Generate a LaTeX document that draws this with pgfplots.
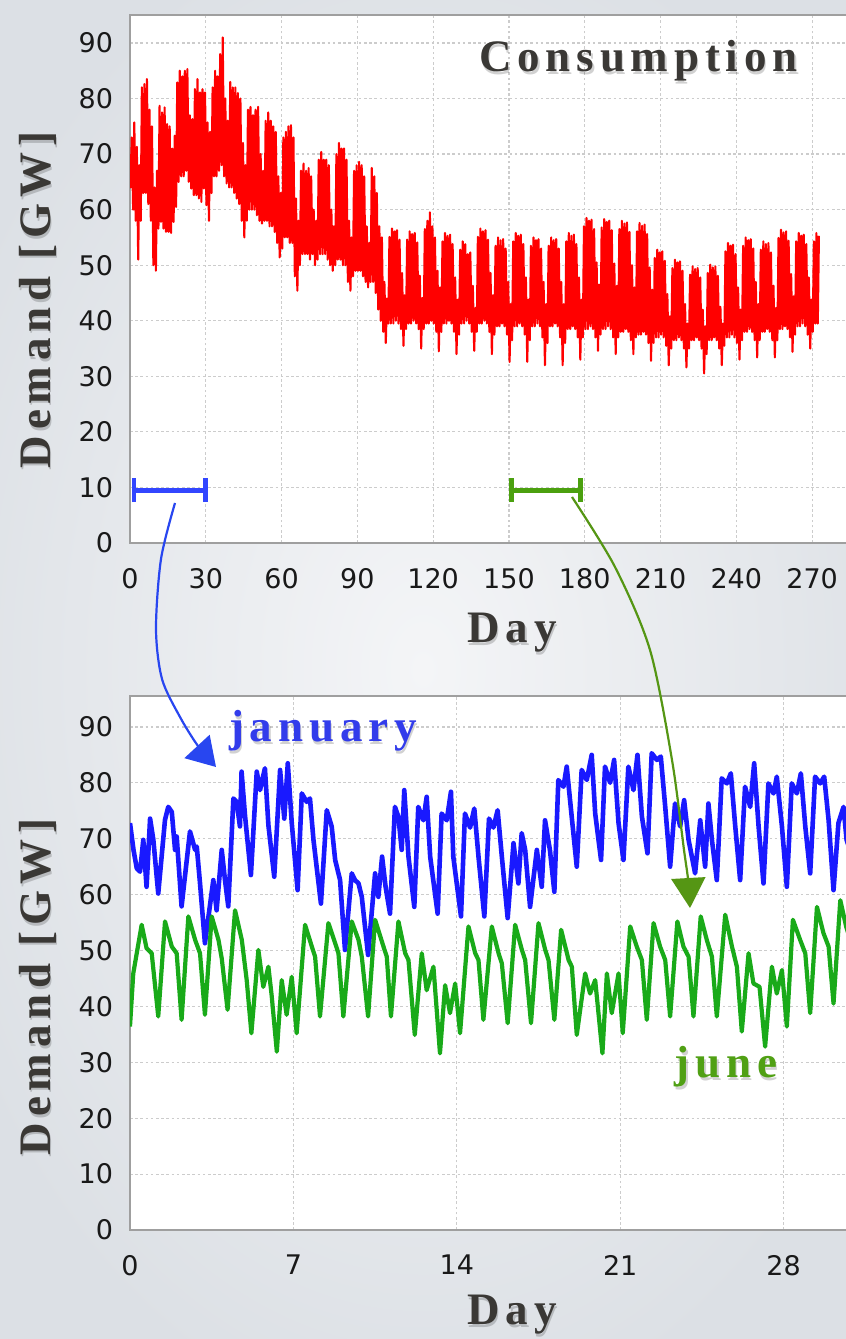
\documentclass[border=0pt]{standalone}
\usepackage{pgfplots}
\pgfplotsset{compat=1.18}
\usetikzlibrary{arrows.meta}
\usepackage{fontspec}
\setmainfont{Liberation Serif}
\newfontfamily\lblfont[LetterSpace=13]{Liberation Serif}
\newfontfamily\tickfont{DejaVu Sans}
\definecolor{redl}{RGB}{255,0,0}
\definecolor{bluel}{RGB}{25,25,255}
\definecolor{greenl}{RGB}{25,170,25}
\definecolor{barblue}{RGB}{50,70,255}
\definecolor{bargreen}{RGB}{75,160,15}
\definecolor{arrblue}{RGB}{40,70,240}
\definecolor{arrgreen}{RGB}{85,150,20}
\definecolor{txtblue}{RGB}{50,60,235}
\definecolor{txtgreen}{RGB}{80,160,20}
\definecolor{lbl}{RGB}{58,56,53}
\definecolor{tickc}{RGB}{25,25,25}
\definecolor{bgin}{RGB}{244,245,247}
\definecolor{bgout}{RGB}{220,224,229}
\pgfplotsset{
  common/.style={
    scale only axis, anchor=south west,
    ymin=0, ytick={0,10,...,90},
    grid=major,
    major grid style={gray!40, dash pattern=on 1.3pt off 1.3pt, line width=0.6pt},
    axis line style={gray!75, line width=1.2pt},
    tick style={draw=none},
    /pgf/number format/assume math mode=true,
    ticklabel style={font=\tickfont\fontsize{13.5}{15}\selectfont, text=tickc},
    xticklabel style={yshift=-9pt},
    yticklabel style={xshift=-5pt},
    axis background/.style={fill=white},
  }
}
\newcommand{\lbltxt}{\lblfont\bfseries\fontsize{22.5}{24}\selectfont}
\begin{document}
\begin{tikzpicture}[x=0.5pt,y=0.5pt]
\useasboundingbox (0,0) rectangle (846,1339);
\clip (0,0) rectangle (846,1339);
\shade[inner color=bgin, outer color=bgout] (-100,-100) rectangle (946,1439);
\coordinate (topO) at (130,796);
\coordinate (botO) at (130,109);

% ---------------- top axis ----------------
\begin{axis}[common, at={(topO)}, width=360pt, height=263.9pt,
  xmin=0, xmax=285, ymax=95, xtick={0,30,...,270}]
\addplot[redl, line width=1.05pt, line join=round] coordinates {
(0,70)
(0.25,64)(0.7,73)(1.25,60)(1.7,75.7)(2.25,58)(2.7,71.3)(3.25,51)(3.7,68)(4.25,58)(4.7,82)
(5.25,63)(5.7,82.6)(6.25,63)(6.7,83.5)(7.25,61)(7.7,78)(8.25,58)(8.7,75)(9.25,50)(9.7,64)
(10.25,49)(10.7,67)(11.25,56.6)(11.7,78.7)(12.25,57.8)(12.7,77.5)(13.25,56.6)(13.7,78.4)(14.25,56)(14.7,75.4)
(15.25,56)(15.7,75)(16.25,55.8)(16.7,71)(17.25,57.8)(17.7,73.3)(18.25,60.5)(18.7,82.9)(19.25,65)(19.7,85)
(20.25,66)(20.7,84)(21.25,66)(21.7,85)(22.25,67)(22.7,85.3)(23.25,65)(23.7,77)(24.25,63.8)(24.7,76.3)
(25.25,62.6)(25.7,81.7)(26.25,62.6)(26.7,83.5)(27.25,62)(27.7,81.1)(28.25,61.4)(28.7,81.7)(29.25,63.8)(29.7,81.1)
(30.25,60.8)(30.7,75.7)(31.25,58)(31.7,74)(32.25,63)(32.7,82)(33.25,66)(33.7,85)(34.25,66)(34.7,84)
(35.25,67)(35.7,88)(36.25,68)(36.7,91)(37.25,66)(37.7,80)(38.25,64.7)(38.7,76)(39.25,64)(39.7,83)
(40.25,64)(40.7,82)(41.25,63)(41.7,82)(42.25,62)(42.7,81)(43.25,61)(43.7,80)(44.25,58)(44.7,72)
(45.25,55)(45.7,68)(46.25,58)(46.7,78)(47.25,60)(47.7,78.5)(48.25,60)(48.7,77)(49.25,60)(49.7,78)
(50.25,59)(50.7,78.5)(51.25,58)(51.7,70)(52.25,57.5)(52.7,67)(53.25,58)(53.7,76)(54.25,58)(54.7,77.5)
(55.25,57)(55.7,76)(56.25,57)(56.7,75)(57.25,56)(57.7,74)(58.25,54)(58.7,66)(59.25,51.4)(59.7,63)
(60.25,53)(60.7,73)(61.25,55)(61.7,74)(62.25,55)(62.7,75)(63.25,54)(63.7,75.2)(64.25,54)(64.7,73)
(65.25,48)(65.7,62)(66.25,45.4)(66.7,58)(67.25,50)(67.7,67)(68.25,52)(68.7,68.3)(69.25,52)(69.7,67)
(70.25,52)(70.7,67.5)(71.25,51)(71.7,66)(72.25,52)(72.7,60)(73.25,50)(73.7,58)(74.25,51)(74.7,69)
(75.25,52)(75.7,70.4)(76.25,52)(76.7,69)(77.25,52)(77.7,69)(78.25,51)(78.7,68)(79.25,50)(79.7,60)
(80.25,49)(80.7,57)(81.25,50)(81.7,70)(82.25,51)(82.7,72)(83.25,51)(83.7,71)(84.25,50)(84.7,71)
(85.25,50)(85.7,69)(86.25,47)(86.7,58)(87.25,45.4)(87.7,55)(88.25,48)(88.7,67)(89.25,49)(89.7,68)
(90.25,49)(90.7,68.6)(91.25,49)(91.7,68)(92.25,48)(92.7,66)(93.25,47)(93.7,57)(94.25,46)(94.7,54)
(95.25,47)(95.7,67.5)(96.25,47)(96.7,66)(97.25,45)(97.7,63)(98.25,42)(98.7,57)(99.25,40)(99.7,55)
(100.25,38)(100.7,47)(101.25,36)(101.7,44)
(102.25,39.5)(102.7,55.1)(103.25,39.5)(103.7,56.6)(104.25,39.5)(104.7,56.1)(105.25,40)(105.7,56.3)(106.25,39.5)(106.7,54.6)
(107.25,38.5)(107.7,48.6)(108.25,35.5)(108.7,44.6)
(109.25,38.5)(109.7,54.6)(110.25,39.5)(110.7,56.1)(111.25,39.5)(111.7,55.6)(112.25,40)(112.7,55.8)(113.25,39.5)(113.7,54.1)
(114.25,38.5)(114.7,48.1)(115.25,35)(115.7,44.1)
(116.25,38.5)(116.7,56.5)(117.25,39.5)(117.7,58)(118.25,39.5)(118.7,59.5)(119.25,40)(119.7,57)(120.25,39.5)(120.7,55)
(121.25,38)(121.7,49)(122.25,34.5)(122.7,46)
(123.25,38)(123.7,54.3)(124.25,39.5)(124.7,55.8)(125.25,39.5)(125.7,55.3)(126.25,40)(126.7,55.5)(127.25,39.5)(127.7,53.8)
(128.25,38)(128.7,47.8)(129.25,34)(129.7,43.8)
(130.25,37.5)(130.7,52.8)(131.25,39.5)(131.7,54.3)(132.25,39.5)(132.7,53.8)(133.25,40)(133.7,52)(134.25,39.5)(134.7,52.3)
(135.25,38)(135.7,46.3)(136.25,34.6)(136.7,42.3)
(137.25,38)(137.7,55.1)(138.25,39.5)(138.7,56.6)(139.25,39.5)(139.7,56.1)(140.25,40)(140.7,56.3)(141.25,39.5)(141.7,54.6)
(142.25,38)(142.7,48.6)(143.25,34)(143.7,44.6)
(144.25,37.5)(144.7,53.5)(145.25,39)(145.7,55)(146.25,39)(146.7,54.5)(147.25,39.5)(147.7,54.7)(148.25,39)(148.7,53)
(149.25,37.5)(149.7,47)(150.25,32.6)(150.7,43)
(151.25,36.5)(151.7,54.3)(152.25,39)(152.7,55.8)(153.25,39)(153.7,55.3)(154.25,39.5)(154.7,55.5)(155.25,39)(155.7,53.8)
(156.25,37.5)(156.7,47.8)(157.25,32.6)(157.7,43.8)
(158.25,36.5)(158.7,53.5)(159.25,39)(159.7,55)(160.25,39)(160.7,54.5)(161.25,39.5)(161.7,54.7)(162.25,39)(162.7,53)
(163.25,37)(163.7,47)(164.25,32)(164.7,43)
(165.25,36)(165.7,53.5)(166.25,39)(166.7,55)(167.25,39)(167.7,54.5)(168.25,39.5)(168.7,54.7)(169.25,39)(169.7,53)
(170.25,37)(170.7,47)(171.25,32)(171.7,43)
(172.25,36)(172.7,54.3)(173.25,38.5)(173.7,55.8)(174.25,38.5)(174.7,55.3)(175.25,39)(175.7,55.5)(176.25,38.5)(176.7,53.8)
(177.25,37)(177.7,47.8)(178.25,33)(178.7,43.8)
(179.25,37)(179.7,57)(180.25,38.5)(180.7,58.5)(181.25,38.5)(181.7,58)(182.25,39)(182.7,58.2)(183.25,38.5)(183.7,56.5)
(184.25,37)(184.7,50.5)(185.25,34.6)(185.7,46.5)
(186.25,37.5)(186.7,56.8)(187.25,38.5)(187.7,58.3)(188.25,38.5)(188.7,57.8)(189.25,39)(189.7,58)(190.25,38.5)(190.7,56.3)
(191.25,37)(191.7,50.3)(192.25,34)(192.7,46.3)
(193.25,37)(193.7,56.5)(194.25,38)(194.7,58)(195.25,38)(195.7,57.5)(196.25,38.5)(196.7,57.7)(197.25,38)(197.7,56)
(198.25,36.5)(198.7,50)(199.25,34)(199.7,46)
(200.25,37)(200.7,56.1)(201.25,37.5)(201.7,57.6)(202.25,37.5)(202.7,57.1)(203.25,38)(203.7,57.3)(204.25,37.5)(204.7,55.6)
(205.25,36)(205.7,49.6)(206.25,32.8)(206.7,45.6)
(207.25,36)(207.7,51.3)(208.25,37)(208.7,52.8)(209.25,37)(209.7,52.3)(210.25,37.5)(210.7,52.5)(211.25,37)(211.7,50.8)
(212.25,35.5)(212.7,44.8)(213.25,32)(213.7,40.8)
(214.25,35)(214.7,49.5)(215.25,36.5)(215.7,51)(216.25,36.5)(216.7,50.5)(217.25,37)(217.7,50.7)(218.25,36.5)(218.7,49)
(219.25,35)(219.7,43)(220.25,31.6)(220.7,39.5)
(221.25,35)(221.7,48.3)(222.25,36.5)(222.7,49.8)(223.25,36.5)(223.7,49.3)(224.25,37)(224.7,49.5)(225.25,36.5)(225.7,47.8)
(226.25,35)(226.7,42)(227.25,30.5)(227.7,39)
(228.25,34)(228.7,48.6)(229.25,36.5)(229.7,50.1)(230.25,36.5)(230.7,49.6)(231.25,37)(231.7,49.8)(232.25,36.5)(232.7,48.1)
(233.25,35)(233.7,42.5)(234.25,32)(234.7,39.5)
(235.25,35.5)(235.7,52.5)(236.25,37)(236.7,54)(237.25,37)(237.7,53.5)(238.25,37.5)(238.7,53.7)(239.25,37)(239.7,52)
(240.25,36)(240.7,46)(241.25,33)(241.7,42)
(242.25,36.5)(242.7,53.5)(243.25,38)(243.7,55)(244.25,38)(244.7,54.5)(245.25,38.5)(245.7,54.7)(246.25,38)(246.7,53)
(247.25,36.5)(247.7,47)(248.25,33.4)(248.7,43)
(249.25,36.5)(249.7,52.8)(250.25,38)(250.7,54.3)(251.25,38)(251.7,53.8)(252.25,38.5)(252.7,54)(253.25,38)(253.7,52.3)
(254.25,36.5)(254.7,46.3)(255.25,33.4)(255.7,42.3)
(256.25,36.5)(256.7,54.9)(257.25,38.5)(257.7,56.4)(258.25,38.5)(258.7,55.9)(259.25,39)(259.7,56.1)(260.25,38.5)(260.7,54.4)
(261.25,37)(261.7,48.4)(262.25,34.4)(262.7,44.4)
(263.25,37.5)(263.7,54.3)(264.25,39)(264.7,55.8)(265.25,39)(265.7,55.3)(266.25,39.5)(266.7,55.5)(267.25,39)(267.7,53.8)
(268.25,37.5)(268.7,47.8)(269.25,35)(269.7,43.8)
(270.25,38)(270.7,54.3)(271.25,39.5)(271.7,55.8)(272.25,39.5)(272.7,55.3)
};
\addplot[barblue, line width=2.3pt, {Bar[width=12pt]-Bar[width=12pt]}] coordinates {(0.6,9.5) (30.7,9.5)};
\addplot[bargreen, line width=2.3pt, {Bar[width=12pt]-Bar[width=12pt]}] coordinates {(150,9.5) (179.3,9.5)};
\end{axis}

% ---------------- bottom axis ----------------
\begin{axis}[common, at={(botO)}, width=361.8pt, height=266.9pt,
  xmin=0, xmax=31, ymax=95.5, xtick={0,7,...,28}]
\addplot[bluel, line width=2.3pt, line join=round] coordinates {
(0,72.8)(0.15,68)(0.29,64.7)(0.43,64.1)(0.57,69.8)(0.71,61.4)(0.86,73.6)(1,69.8)(1.21,60.2)(1.5,73.4)
(1.64,75.7)(1.79,74.8)(1.93,68)(2,70.4)(2.21,57.9)(2.57,71.3)(2.79,68)(2.86,68.6)(3,62)(3.21,51.3)
(3.36,56)(3.57,62.6)(3.71,57.2)(3.93,68)(4.07,62.6)(4.21,57.9)(4.43,77.2)(4.57,76.6)(4.71,72.2)(4.78,82)
(4.93,74)(5.18,63.5)(5.43,82)(5.57,78.7)(5.78,82.6)(5.93,72.4)(6.18,63.2)(6.43,82.3)(6.61,73.6)(6.76,83.5)
(6.93,72.8)(7.18,60.8)(7.36,78.1)(7.57,76.6)(7.71,77.2)(7.86,69.8)(8.18,58.4)(8.43,75.1)(8.64,72.2)(8.79,66.2)
(9,62.6)(9.21,50.1)(9.5,63.8)(9.64,62.6)(9.79,62)(9.93,59.6)(10.2,49.2)(10.5,63.8)(10.64,59.6)(10.8,66.8)
(10.95,61.4)(11.14,56.6)(11.35,75.7)(11.5,73.9)(11.64,68)(11.75,78.7)(11.93,66.8)(12.18,57.8)(12.35,75.7)(12.57,73.3)
(12.71,77.5)(12.86,66.8)(13.18,56.6)(13.35,74.5)(13.57,73.3)(13.75,78.4)(13.85,66.8)(14.18,56.1)(14.35,74.5)(14.57,72)
(14.75,75.4)(14.93,66.8)(15.18,56.1)(15.38,73.6)(15.57,72)(15.75,75.1)(15.93,66.8)(16.18,55.8)(16.43,69.2)(16.64,62)
(16.78,71)(16.93,68)(17.14,57.8)(17.43,68)(17.64,61.4)(17.78,73.3)(17.99,68)(18.18,60.5)(18.35,80.5)(18.57,79.3)
(18.71,82.9)(18.85,77)(19.14,65)(19.35,82.3)(19.57,80.5)(19.78,85)(19.93,74.5)(20.18,66.2)(20.35,82.9)(20.57,80)
(20.74,84.1)(20.93,72.8)(21.14,66.2)(21.35,82.9)(21.57,78.7)(21.74,85)(21.93,74)(22.17,67.4)(22.35,85.3)(22.57,84.1)
(22.74,84.7)(22.93,75.7)(23.14,65)(23.35,76.3)(23.57,72.2)(23.74,76.9)(23.93,69.8)(24.21,63.8)(24.43,73.3)(24.64,65)
(24.78,76.3)(24.93,69.8)(25.14,62.6)(25.35,80.8)(25.57,79.9)(25.74,81.7)(25.93,72.2)(26.14,62.6)(26.35,79.3)(26.57,75.7)
(26.74,83.5)(26.93,72.2)(27.14,62)(27.35,79.9)(27.57,78.1)(27.71,81.1)(27.93,72.2)(28.14,61.4)(28.35,79.9)(28.57,78.1)
(28.74,81.7)(28.93,72.2)(29.14,63.8)(29.35,81.1)(29.57,79.9)(29.74,81.1)(29.93,73.3)(30.14,60.8)(30.35,72.8)(30.57,75.7)
(30.7,69.8)(31,66)
};
\addplot[greenl, line width=2.1pt, line join=round] coordinates {
(0,36.4)(0.14,45.9)(0.5,54.6)(0.71,50.4)(0.93,49.5)(1.21,38.2)(1.5,55.2)(1.79,50.7)(2,49.5)(2.21,37.6)
(2.5,56.1)(2.79,51.9)(3,49.5)(3.21,38.5)(3.5,56.1)(3.79,51.9)(3.93,48.6)(4.18,39.4)(4.5,57.2)(4.79,51.9)
(5,44.7)(5.2,35.2)(5.5,50.1)(5.71,43.5)(5.93,47.1)(6.07,41.9)(6.29,31.9)(6.5,44.7)(6.71,38.5)(6.93,45.3)
(7.14,35.2)(7.5,54.6)(7.79,50.7)(7.93,48.9)(8.14,38.2)(8.5,54.9)(8.79,51.3)(8.93,49.5)(9.14,38.2)(9.5,55.2)
(9.79,51.9)(9.93,48.9)(10.2,38.2)(10.5,55.5)(10.86,50.7)(11,48.9)(11.18,38.2)(11.5,55.2)(11.79,49.5)(11.93,48.3)
(12.2,34.9)(12.5,49.5)(12.71,42.9)(13,47.1)(13.28,31.6)(13.5,43.8)(13.71,38.8)(13.93,44.1)(14.14,35.2)(14.5,54.3)
(14.79,49.5)(14.93,48.3)(15.14,37.6)(15.5,54.3)(15.79,49.5)(15.93,47.7)(16.18,37)(16.5,54.6)(16.79,50.1)(16.93,48.3)
(17.18,37)(17.5,54.9)(17.79,50.1)(17.93,48.3)(18.18,37.6)(18.47,53.7)(18.79,48.3)(18.93,47.1)(19.14,34.9)(19.5,45.9)
(19.71,42.3)(19.93,44.7)(20.24,31.6)(20.43,45.9)(20.64,38.8)(20.93,45.9)(21.11,35.2)(21.43,54.3)(21.71,50.7)(21.93,48.3)
(22.14,37.6)(22.43,54.9)(22.71,50.7)(22.93,48.3)(23.14,38.2)(23.45,55.2)(23.71,50.7)(23.93,48.9)(24.14,38.2)(24.45,56.1)
(24.71,51.9)(24.93,48.9)(25.14,38.2)(25.5,56.4)(25.79,50.7)(26,47.1)(26.21,35.5)(26.5,49.5)(26.71,44.1)(26.97,43.5)
(27.21,32.8)(27.5,47.1)(27.71,42.3)(27.93,46.5)(28.14,36.4)(28.4,55.5)(28.71,51.9)(28.93,49.5)(29.14,38.8)(29.43,57.8)
(29.71,53.1)(29.93,50.7)(30.14,40.5)(30.43,59)(30.68,54.3)(31,50)
};
\end{axis}

% ---------------- texts ----------------
\foreach \dx/\dy/\op in {1.5/-2.5/0.18} {
  \node[anchor=base, text=black, opacity=\op, font=\lbltxt] at (638.5+\dx,1267+\dy) {Consumption};
  \node[anchor=base, text=black, opacity=\op, font=\lbltxt] at (512+\dx,696+\dy) {Day};
  \node[anchor=base, text=black, opacity=\op, font=\lbltxt] at (512+\dx,14+\dy) {Day};
  \node[anchor=base, rotate=90, text=black, opacity=\op, font=\lbltxt] at (50+\dx,1039+\dy) {Demand [GW]};
  \node[anchor=base, rotate=90, text=black, opacity=\op, font=\lbltxt] at (50+\dx,352+\dy) {Demand [GW]};
  \node[anchor=base, text=black, opacity=\op, font=\lbltxt] at (323+\dx,597+\dy) {january};
  \node[anchor=base, text=black, opacity=\op, font=\lbltxt] at (726+\dx,261+\dy) {june};
}
\node[anchor=base, text=lbl, font=\lbltxt] at (638.5,1267) {Consumption};
\node[anchor=base, text=lbl, font=\lbltxt] at (512,696) {Day};
\node[anchor=base, text=lbl, font=\lbltxt] at (512,14) {Day};
\node[anchor=base, rotate=90, text=lbl, font=\lbltxt] at (50,1039) {Demand [GW]};
\node[anchor=base, rotate=90, text=lbl, font=\lbltxt] at (50,352) {Demand [GW]};
\node[anchor=base, text=txtblue, font=\lbltxt] at (323,597) {january};
\node[anchor=base, text=txtgreen, font=\lbltxt] at (726,261) {june};

% ---------------- arrows ----------------
\draw[arrblue, line width=1.1pt, -{Triangle[length=14pt,width=17pt]}]
  plot[smooth] coordinates {(175,836) (161,780) (156,710) (162,660) (180,622) (198,593) (216,572)};
\draw[arrgreen, line width=1.1pt, -{Triangle[length=15pt,width=17pt]}]
  plot[smooth] coordinates {(572,842) (615,772) (650,689) (672,579) (684,489) (688,460) (690,431)};
\end{tikzpicture}
\end{document}
